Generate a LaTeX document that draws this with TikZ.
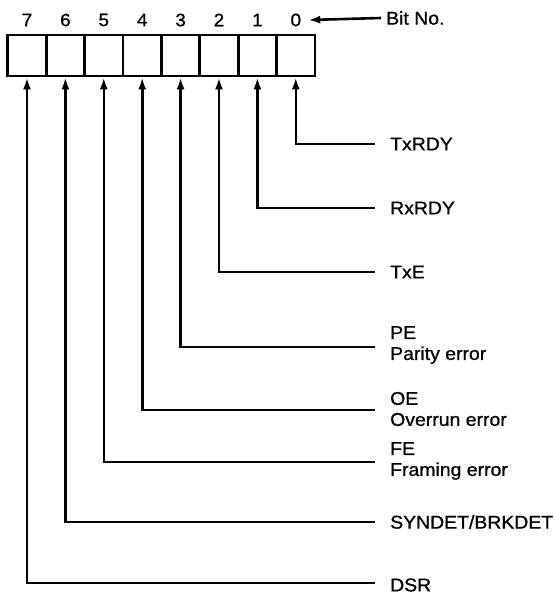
\documentclass[tikz,border=0pt]{standalone}
\usepackage{fontspec}
\setmainfont{Liberation Sans}[FakeStretch=1.05, FakeBold=0.8]
\usetikzlibrary{positioning,arrows.meta}

\begin{document}
\begin{tikzpicture}[
  x=1pt, y=-1pt,
  cell/.style={draw, rectangle, minimum width=38.4pt, minimum height=41pt, line width=2.8pt, inner sep=0pt},
  digit/.style={font=\fontsize{18}{20}\selectfont, inner sep=0pt},
  lbl/.style={font=\fontsize{18.5}{21}\selectfont, align=left, anchor=west, inner sep=0pt},
  arr/.style={-{Latex[length=12pt, width=8pt]}, line width=2.6pt},
]
  \useasboundingbox (0,0) rectangle (554,594);

  % register cells and bit numbers
  \foreach \b in {0,...,7} {
    \node[cell] (c\b) at ({315-38.4*(\b+0.5)}, 55.5) {};
    \node[digit] (n\b) at ({315-38.4*(\b+0.5)}, 20) {\b};
  }
  \node[lbl] (bitno) at (386,18) {Bit No.};
  \draw[arr] ([xshift=-5pt]bitno.west) -- ([xshift=7pt]n0.east);

  % status flags
  \node[lbl] (txrdy)  at (390,144) {TxRDY};
  \node[lbl] (rxrdy)  at (390,208) {RxRDY};
  \node[lbl] (txe)    at (390,272) {TxE};
  \node[lbl] (pe)     at (390,345) {PE\\Parity error};
  \node[lbl] (oe)     at (390,409) {OE\\Overrun error};
  \node[lbl] (fe)     at (390,461) {FE\\Framing error};
  \node[lbl] (syndet) at (390,522) {SYNDET/BRKDET};
  \node[lbl] (dsr)    at (390,585) {DSR};

  \draw[arr] ([xshift=-15pt]txrdy.west)  -| (c0.south);
  \draw[arr] ([xshift=-15pt]rxrdy.west)  -| (c1.south);
  \draw[arr] ([xshift=-15pt]txe.west)    -| (c2.south);
  \draw[arr] ([xshift=-15pt,yshift=-2pt]pe.west) -| (c3.south);
  \draw[arr] ([xshift=-15pt,yshift=-1pt]oe.west) -| (c4.south);
  \draw[arr] ([xshift=-15pt,yshift=-1pt]fe.west) -| (c5.south);
  \draw[arr] ([xshift=-15pt]syndet.west) -| (c6.south);
  \draw[arr] ([xshift=-15pt,yshift=2pt]dsr.west) -| (c7.south);
\end{tikzpicture}
\end{document}
